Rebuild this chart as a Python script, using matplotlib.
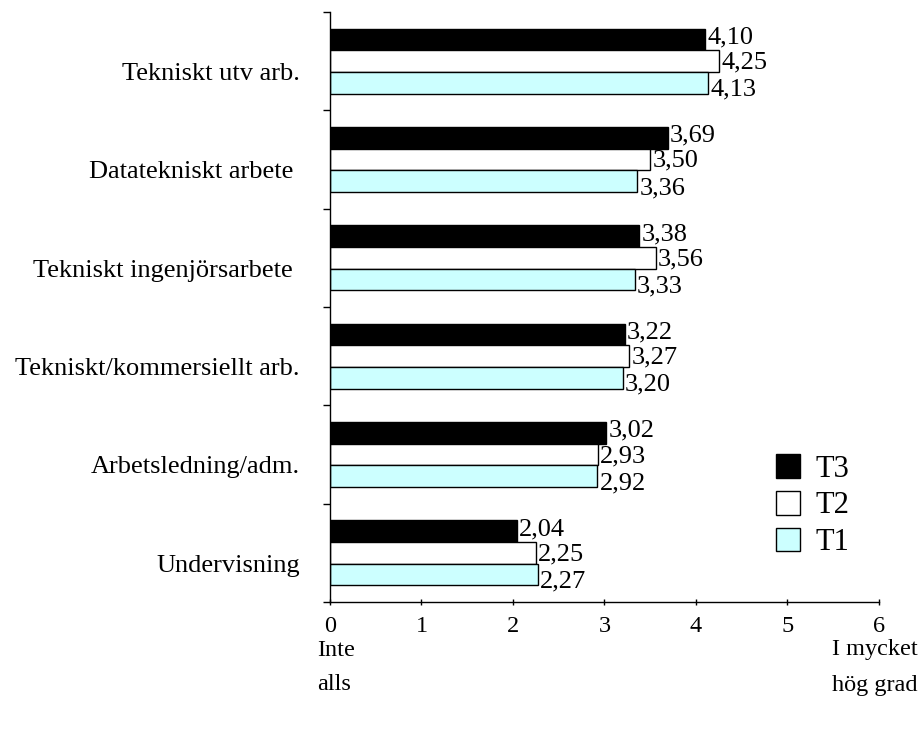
import numpy as np
import matplotlib
matplotlib.use("Agg")
import matplotlib.pyplot as plt
from matplotlib.patches import Patch

plt.rcParams['font.family'] = ['Liberation Serif', 'DejaVu Serif']

# Kategorier uppifrån och ned
categories = ["Tekniskt utv arb.", "Datatekniskt arbete ", "Tekniskt ingenjörsarbete ",
              "Tekniskt/kommersiellt arb.", "Arbetsledning/adm.", "Undervisning"]
t3 = [4.10, 3.69, 3.38, 3.22, 3.02, 2.04]
t2 = [4.25, 3.50, 3.56, 3.27, 2.93, 2.25]
t1 = [4.13, 3.36, 3.33, 3.20, 2.92, 2.27]
series_names = ["T3", "T2", "T1"]
series_colors = ["black", "white", "#CCFFFF"]
x_ticks = [0, 1, 2, 3, 4, 5, 6]

fig = plt.figure(figsize=(9.2, 7.33), dpi=100)
ax = fig.add_axes([0.3587, 0.1787, 0.5967, 0.805])

n = len(categories)
ypos = np.arange(n)[::-1]
h = 0.22
offsets = [h, 0, -h]
# etiketterna sprids lite mer än staplarna
label_shift = [0.02, -0.015, -0.07]

for vals, off, ls, col in zip([t3, t2, t1], offsets, label_shift, series_colors):
    ax.barh(ypos + off, vals, height=h, color=col, edgecolor="black", linewidth=1)
    for y, v in zip(ypos, vals):
        ax.text(v + 0.025, y + off + ls, f"{v:.2f}".replace(".", ","),
                ha="left", va="center", fontsize=19)

for y, lab in zip(ypos, categories):
    ax.text(-0.33, y - 0.13, lab, ha="right", va="center", fontsize=19)

ax.set_xlim(0, 6)
ax.set_ylim(-0.5, n - 0.5)
ax.set_xticks(x_ticks)
ax.set_xticklabels([str(t) for t in x_ticks], fontsize=17.5)
ax.set_yticks(np.arange(-0.5, n, 1.0))
ax.set_yticklabels([])
ax.tick_params(axis="y", direction="out", length=5, width=1)
ax.tick_params(axis="x", direction="inout", length=4, width=1, pad=8)
for s in ["top", "right"]:
    ax.spines[s].set_visible(False)
ax.spines["left"].set_linewidth(1)
ax.spines["bottom"].set_linewidth(1)

# Skalans ändpunkter
fig.text(317 / 920, 1 - 650 / 733, "Inte", ha="left", va="center", fontsize=17.5)
fig.text(317 / 920, 1 - 685 / 733, "alls", ha="left", va="center", fontsize=17.5)
fig.text(918 / 920, 1 - 650 / 733, "I mycket", ha="right", va="center", fontsize=17.5)
fig.text(918 / 920, 1 - 685 / 733, "hög grad", ha="right", va="center", fontsize=17.5)

handles = [Patch(facecolor=c, edgecolor="black", linewidth=1) for c in series_colors]
ax.legend(handles, series_names, loc="center left", bbox_to_anchor=(0.79, 0.163),
          frameon=False, fontsize=22, handlelength=0.8, handleheight=0.8,
          handletextpad=0.5, labelspacing=0.25, borderaxespad=0)

fig.savefig("out.png", dpi=100)
